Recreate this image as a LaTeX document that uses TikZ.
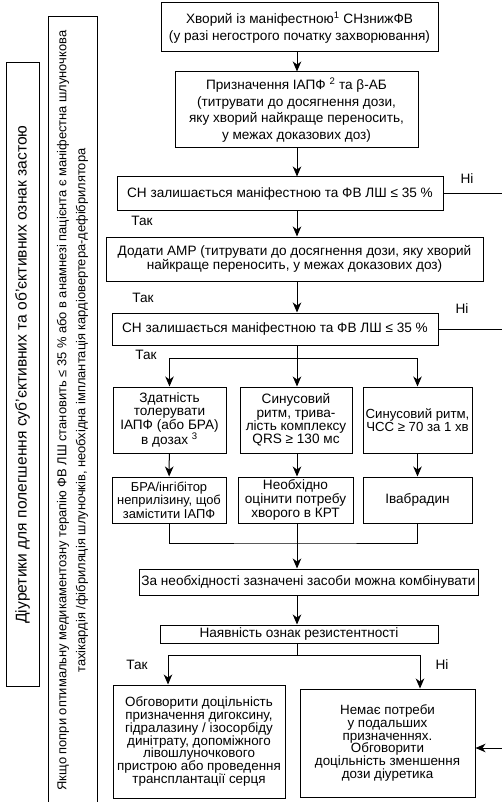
\documentclass[tikz,border=0pt]{standalone}
\usepackage{fontspec}
\setmainfont{Liberation Sans}
\usetikzlibrary{arrows.meta}

\tikzset{
  box/.style={draw, line width=1pt, align=center, inner sep=1pt,
    font=\fontsize{13.6}{13.4}\selectfont},
  link/.style={line width=1pt},
  arr/.style={link, -{Stealth[length=10pt,width=8.5pt,inset=3pt]}},
  lbl/.style={inner sep=0pt, font=\fontsize{13.6}{13.4}\selectfont},
}

\begin{document}
\begin{tikzpicture}[x=1pt,y=-1pt]
  \useasboundingbox (0,0) rectangle (502,802);

  % side boxes
  \node (diur) [box, rotate=90, minimum width=623pt, minimum height=33pt,
    font=\fontsize{15.6}{17}\selectfont] at (22.5,374.5)
    {Діуретики для полегшення суб’єктивних та об’єктивних ознак застою};
  \node (icd) [box, rotate=90, minimum width=787pt, minimum height=49pt,
    font=\fontsize{12.9}{19}\selectfont] at (72.5,410.5)
    {Якщо попри оптимальну медикаментозну терапію ФВ ЛШ становить ≤ 35 \% або в анамнезі пацієнта є маніфестна шлуночкова\\
     тахікардія /фібриляція шлуночків, необхідна імплантація кардіовертера-дефібрилятора};

  % main column
  \node (start) [box, minimum width=277pt, minimum height=49pt,
    font=\fontsize{13.6}{16.5}\selectfont] at (299.5,27.5)
    {Хворий із маніфестною\textsuperscript{1} СНзнижФВ\\(у разі негострого початку захворювання)};
  \node (iapf) [box, minimum width=243pt, minimum height=76pt,
    font=\fontsize{13.6}{16.5}\selectfont] at (296.5,110)
    {Призначення ІАПФ \textsuperscript{2} та β-АБ\\(титрувати до досягнення дози,\\яку хворий найкраще переносить,\\у межах доказових доз)};
  \node (chk1) [box, minimum width=326pt, minimum height=34pt] at (280,194)
    {СН залишається маніфестною та ФВ ЛШ ≤ 35 \%};
  \node (amr) [box, minimum width=377pt, minimum height=44pt] at (294.5,259)
    {Додати АМР (титрувати до досягнення дози, яку хворий\\найкраще переносить, у межах доказових доз)};
  \node (chk2) [box, minimum width=326pt, minimum height=32pt] at (275,329)
    {СН залишається маніфестною та ФВ ЛШ ≤ 35 \%};

  % three branches
  \node (tol) [box, minimum width=113pt, minimum height=66pt] at (169.5,420)
    {Здатність\\толерувати\\ІАПФ (або БРА)\\в дозах \textsuperscript{3}};
  \node (qrs) [box, minimum width=112pt, minimum height=66pt] at (296,420)
    {Синусовий\\ритм, трива-\\лість комплексу\\QRS ≥ 130 мс};
  \node (hr) [box, minimum width=109pt, minimum height=66pt,
    font=\fontsize{13.2}{13.4}\selectfont] at (417.5,420)
    {Синусовий ритм,\\ЧСС ≥ 70 за 1 хв};
  \node (arni) [box, minimum width=114pt, minimum height=46pt,
    font=\fontsize{12.9}{13.6}\selectfont] at (169,500)
    {БРА/інгібітор\\неприлізину, щоб\\замістити ІАПФ};
  \node (crt) [box, minimum width=115pt, minimum height=46pt,
    font=\fontsize{13.6}{13.6}\selectfont] at (295.5,500)
    {Необхідно\\оцінити потребу\\хворого в КРТ};
  \node (ivab) [box, minimum width=109pt, minimum height=46pt] at (417.5,500)
    {Івабрадин};

  \node (comb) [box, minimum width=339pt, minimum height=26pt] at (308.5,582)
    {За необхідності зазначені засоби можна комбінувати};
  \node (resist) [box, minimum width=278pt, minimum height=18pt] at (299,634)
    {Наявність ознак резистентності};
  \node (adv) [box, minimum width=172pt, minimum height=113pt,
    font=\fontsize{13.4}{12.8}\selectfont] at (199,741.5)
    {Обговорити доцільність\\призначення дигоксину,\\гідралазину / ізосорбіду\\динітрату, допоміжного\\лівошлуночкового\\пристрою або проведення\\трансплантації серця};
  \node (none) [box, minimum width=175pt, minimum height=108pt,
    font=\fontsize{13.4}{12.8}\selectfont] at (387.5,743)
    {Немає потреби\\у подальших\\призначеннях.\\Обговорити\\доцільність зменшення\\дози діуретика};

  % labels
  \node (no1) [lbl] at (467,179) {Ні};
  \node (yes1) [lbl] at (142,221) {Так};
  \node (yes2) [lbl] at (143,298) {Так};
  \node (no2) [lbl] at (462,309) {Ні};
  \node (yes3) [lbl] at (146,355) {Так};
  \node (yes4) [lbl] at (137,665) {Так};
  \node (no3) [lbl] at (442,665) {Ні};

  % connectors
  \coordinate (trunk) at (297,0);
  \coordinate (rim) at (502,0);
  \coordinate (split) at (297,358);
  \coordinate (merge) at (297,543);
  \coordinate (fork) at (297,655);
  \coordinate (forkl) at (168,655);
  \coordinate (forkr) at (420,655);
  \coordinate (back) at (502,748);

  \path[arr]
    (start.south -| trunk) edge (iapf.north -| trunk)
    (iapf.south -| trunk)  edge (chk1.north -| trunk)
    (chk1.south -| trunk)  edge (amr.north -| trunk)
    (amr.south -| trunk)   edge (chk2.north -| trunk)
    (chk2.south -| trunk)  edge (qrs.north -| trunk)
    (qrs.south -| trunk)   edge (crt.north -| trunk)
    (crt.south -| trunk)   edge (comb.north -| trunk)
    (comb.south -| trunk)  edge (resist.north -| trunk)
    (tol)  edge (arni)
    (hr)   edge (ivab)
    (forkl) edge (forkl |- adv.north)
    (forkr) edge (forkr |- none.north)
    (back) edge (back -| none.east);
  \draw[arr] (split) -| (tol.north);
  \draw[arr] (split) -| (hr.north);
  \draw[link] (arni.south) |- (merge) -| (ivab.south);
  \draw[link] (resist.south -| trunk) -- (fork);
  \draw[link] (forkl) -- (forkr);
  \draw[link] (chk1.east) -- (chk1.east -| rim);
  \draw[link] (chk2.east) -- (chk2.east -| rim);
\end{tikzpicture}
\end{document}
